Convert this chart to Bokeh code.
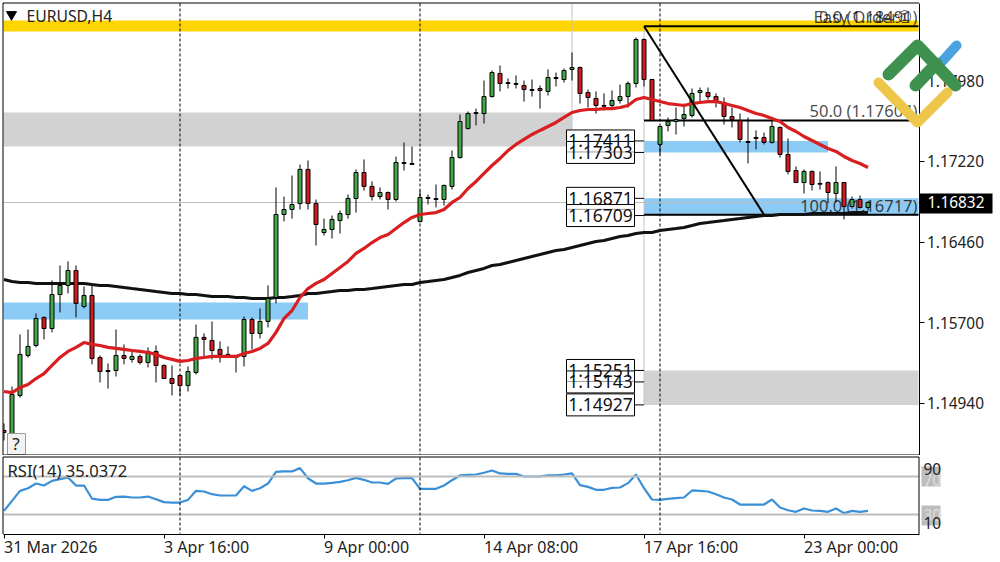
from bokeh.embed import file_html
from bokeh.resources import INLINE
from bokeh.plotting import figure
from bokeh.layouts import column
from bokeh.models import FixedTicker
from bokeh.core.properties import value

# ---------- data ----------
opens = [1.14686,1.14657,1.15015,1.15392,1.15486,1.15750,1.15646,1.15966,1.16051,1.16192,
         1.15853,1.15957,1.15373,1.15241,1.15251,1.15392,1.15355,1.15383,1.15326,1.15430,
         1.15298,1.15175,1.15204,1.15109,1.15232,1.15562,1.15533,1.15449,1.15402,1.15373,
         1.15383,1.15731,1.15599,1.15712,1.15938,1.16719,1.16766,1.16822,1.17143,1.16822,
         1.16549,1.16578,1.16662,1.16719,1.16870,1.17114,1.16983,1.16888,1.16926,1.16860,
         1.17199,1.17199,1.16653,1.16870,1.16860,1.16860,1.16983,1.17255,1.17528,1.17669,
         1.17669,1.17829,1.18046,1.17952,1.17952,1.17933,1.17895,1.17905,1.17877,1.18008,
         1.17989,1.18084,1.18102,1.17867,1.17811,1.17745,1.17745,1.17792,1.17829,1.17952,
         1.18366,1.17989,1.17378,1.17557,1.17594,1.17622,1.17651,1.17867,1.17867,1.17829,
         1.17773,1.17641,1.17604,1.17406,1.17444,1.17444,1.17397,1.17538,1.17284,1.17133,
         1.17020,1.17124,1.17011,1.17020,1.16917,1.17020,1.16794,1.16860,1.16785]
highs = [1.14752,1.15100,1.15590,1.15637,1.15787,1.15759,1.16098,1.16239,1.16277,1.16239,
         1.16042,1.16051,1.15392,1.15317,1.15637,1.15496,1.15430,1.15402,1.15468,1.15486,
         1.15308,1.15298,1.15204,1.15289,1.15684,1.15599,1.15712,1.15524,1.15477,1.15373,
         1.15759,1.15750,1.15835,1.16051,1.16973,1.16888,1.17086,1.17190,1.17227,1.16860,
         1.16681,1.16709,1.16756,1.16907,1.17143,1.17237,1.17030,1.16973,1.16935,1.17265,
         1.17397,1.17359,1.16945,1.16907,1.17001,1.17001,1.17321,1.17660,1.17688,1.17716,
         1.17980,1.18074,1.18121,1.17999,1.18027,1.17980,1.17989,1.17933,1.18084,1.18055,
         1.18093,1.18244,1.18112,1.17895,1.17877,1.17858,1.17886,1.17942,1.17971,1.18385,
         1.18375,1.17989,1.17547,1.17632,1.17726,1.17763,1.17905,1.17914,1.17914,1.17858,
         1.17820,1.17726,1.17669,1.17632,1.17510,1.17491,1.17632,1.17547,1.17435,1.17171,
         1.17143,1.17133,1.17124,1.17030,1.17171,1.17020,1.16888,1.16898,1.16841]
lows = [1.14592,1.14657,1.14996,1.15373,1.15468,1.15543,1.15609,1.15797,1.15976,1.15750,
        1.15835,1.15308,1.15138,1.15081,1.15194,1.15308,1.15326,1.15308,1.15279,1.15138,
        1.15175,1.15015,1.15015,1.15053,1.15213,1.15373,1.15355,1.15326,1.15373,1.15232,
        1.15289,1.15449,1.15552,1.15656,1.15882,1.16653,1.16681,1.16766,1.16766,1.16427,
        1.16521,1.16493,1.16540,1.16681,1.16737,1.16945,1.16851,1.16860,1.16766,1.16841,
        1.17133,1.17190,1.16643,1.16813,1.16785,1.16803,1.16954,1.17246,1.17519,1.17557,
        1.17575,1.17820,1.17877,1.17905,1.17905,1.17782,1.17829,1.17716,1.17839,1.17924,
        1.17961,1.17980,1.17763,1.17726,1.17669,1.17698,1.17726,1.17763,1.17726,1.17914,
        1.17924,1.17604,1.17284,1.17500,1.17472,1.17547,1.17632,1.17782,1.17801,1.17726,
        1.17566,1.17538,1.17397,1.17199,1.17331,1.17378,1.17387,1.17255,1.17096,1.17020,
        1.16917,1.16945,1.16954,1.16822,1.16832,1.16672,1.16775,1.16775,1.16756]
closes = [1.14667,1.15025,1.15402,1.15477,1.15740,1.15646,1.15966,1.16051,1.16192,1.15882,
          1.15957,1.15364,1.15241,1.15251,1.15392,1.15364,1.15383,1.15326,1.15430,1.15298,
          1.15175,1.15128,1.15109,1.15241,1.15562,1.15543,1.15439,1.15402,1.15392,1.15373,
          1.15731,1.15599,1.15712,1.15929,1.16719,1.16766,1.16813,1.17143,1.16822,1.16625,
          1.16578,1.16672,1.16728,1.16870,1.17114,1.16983,1.16888,1.16926,1.16860,1.17208,
          1.17208,1.17190,1.16879,1.16878,1.16869,1.16992,1.17255,1.17594,1.17669,1.17678,
          1.17829,1.18055,1.17952,1.17960,1.17944,1.17895,1.17887,1.17886,1.18008,1.17999,
          1.18074,1.18102,1.17858,1.17820,1.17745,1.17738,1.17792,1.17829,1.17952,1.18366,
          1.17989,1.17604,1.17547,1.17594,1.17613,1.17660,1.17858,1.17886,1.17829,1.17773,
          1.17641,1.17613,1.17425,1.17397,1.17435,1.17397,1.17547,1.17284,1.17124,1.17020,
          1.17124,1.17001,1.17004,1.16926,1.17020,1.16794,1.16860,1.16785,1.16832]
ma_fast = [1.15053,1.15043,1.15090,1.15119,1.15175,1.15222,1.15298,1.15373,1.15430,1.15468,
           1.15514,1.15496,1.15486,1.15468,1.15458,1.15449,1.15439,1.15430,1.15420,1.15402,
           1.15373,1.15355,1.15336,1.15345,1.15364,1.15373,1.15383,1.15383,1.15383,1.15383,
           1.15411,1.15430,1.15458,1.15505,1.15609,1.15740,1.15815,1.15938,1.16022,1.16070,
           1.16107,1.16164,1.16220,1.16277,1.16352,1.16399,1.16455,1.16502,1.16531,1.16587,
           1.16643,1.16691,1.16719,1.16728,1.16737,1.16766,1.16832,1.16879,1.16964,1.17030,
           1.17105,1.17180,1.17246,1.17321,1.17378,1.17425,1.17472,1.17510,1.17547,1.17585,
           1.17632,1.17679,1.17698,1.17707,1.17707,1.17716,1.17716,1.17726,1.17745,1.17801,
           1.17820,1.17801,1.17782,1.17763,1.17754,1.17745,1.17763,1.17773,1.17782,1.17782,
           1.17763,1.17745,1.17726,1.17698,1.17669,1.17651,1.17622,1.17594,1.17538,1.17500,
           1.17453,1.17415,1.17378,1.17340,1.17312,1.17265,1.17227,1.17199,1.17161]
ma_slow = [1.16107,1.16088,1.16079,1.16079,1.16070,1.16070,1.16070,1.16070,1.16070,1.16070,
           1.16070,1.16060,1.16051,1.16051,1.16042,1.16032,1.16022,1.16013,1.16004,1.15994,
           1.15985,1.15976,1.15976,1.15966,1.15966,1.15957,1.15947,1.15947,1.15947,1.15938,
           1.15938,1.15929,1.15929,1.15929,1.15938,1.15938,1.15947,1.15957,1.15976,1.15976,
           1.15985,1.15994,1.16004,1.16004,1.16013,1.16013,1.16022,1.16032,1.16042,1.16051,
           1.16060,1.16060,1.16079,1.16088,1.16098,1.16107,1.16126,1.16145,1.16173,1.16192,
           1.16211,1.16239,1.16248,1.16267,1.16286,1.16305,1.16324,1.16342,1.16361,1.16380,
           1.16389,1.16408,1.16427,1.16446,1.16465,1.16474,1.16493,1.16512,1.16521,1.16540,
           1.16549,1.16549,1.16568,1.16578,1.16587,1.16597,1.16615,1.16634,1.16643,1.16653,
           1.16662,1.16672,1.16681,1.16691,1.16700,1.16709,1.16709,1.16719,1.16719,1.16719,
           1.16719,1.16728,1.16728,1.16728,1.16728,1.16728,1.16737,1.16737,1.16737]
rsi = [33.8,44.4,54.9,57.7,62.6,60.5,65.4,67.2,69.0,60.5,60.5,46.8,45.4,45.4,48.6,48.9,47.9,47.9,48.9,46.1,
       43.0,42.6,42.6,45.4,54.9,54.2,51.4,50.0,50.0,50.0,59.8,54.9,57.7,62.6,74.9,75.3,75.3,78.8,68.2,62.6,
       62.6,63.3,64.4,66.1,68.6,66.5,63.7,63.7,62.3,67.9,68.2,68.2,57.0,57.0,57.0,60.5,66.1,71.1,71.8,72.1,
       73.9,76.3,73.2,72.8,72.8,70.0,70.0,70.0,71.1,71.1,72.1,73.2,60.9,59.1,56.0,56.0,58.0,58.4,63.0,72.1,
       57.7,45.8,45.4,46.5,47.2,47.9,55.3,54.9,54.2,51.4,47.9,45.8,40.5,40.5,40.5,40.5,45.8,37.4,34.5,32.8,
       36.3,34.2,33.8,32.8,36.3,31.4,33.8,32.8,33.8]

price_ticks = [1.17980, 1.17220, 1.16460, 1.15700, 1.14940]
price_tick_labels = ["1.17980", "1.17220", "1.16460", "1.15700", "1.14940"]
time_ticks = [0, 20, 40, 60, 80, 100]
time_tick_labels = ["31 Mar 2026", "3 Apr 16:00", "9 Apr 00:00", "14 Apr 08:00", "17 Apr 16:00", "23 Apr 00:00"]
session_lines = [22, 52, 82]
last_price = 1.16832
last_price_label = "1.16832"

zone_left = [-0.06, -0.06, -0.06, 80, 80, 80]
zone_right = [114.31, 71, 38, 103, 114.31, 114.31]
zone_top = [1.18545, 1.17679, 1.15891, 1.17411, 1.16871, 1.15251]
zone_bottom = [1.18441, 1.17359, 1.15731, 1.17303, 1.16709, 1.14927]
zone_color = ["#ffd500", "#d2d2d2", "#8ccbf5", "#8ccbf5", "#8ccbf5", "#d2d2d2"]

level_prices = [1.17411, 1.17303, 1.16871, 1.16709, 1.15251, 1.15143, 1.14927]
level_labels = ["1.17411", "1.17303", "1.16871", "1.16709", "1.15251", "1.15143", "1.14927"]
fib_prices = [1.18491, 1.17604, 1.16717]
fib_labels = ["0.0 (1.18491)", "50.0 (1.17604)", "100.0 (1.16717)"]
rsi_levels = [70, 30]

# ---------- helpers: picture position to data position ----------
FONT = "Noto Sans"
def X(px): return (px - 3.5) / 8
def Y(py): return 1.18733 - py * 0.00009412
def R(py): return 70 - (py - 476) / 0.95

n = len(opens)
idx = list(range(n))
GREEN, RED = "#45a84a", "#d01c20"
colors = [GREEN if c >= o else RED for o, c in zip(opens, closes)]
body_top = [max(o, c) for o, c in zip(opens, closes)]
body_bot = [min(o, c) for o, c in zip(opens, closes)]

main = figure(width=1000, height=455, output_backend="svg", toolbar_location=None,
              x_range=(X(0), X(1000)), y_range=(Y(455), Y(0)),
              x_axis_location=None, y_axis_location="right",
              min_border_left=0, min_border_right=0, min_border_top=0, min_border_bottom=0,
              outline_line_color=None, background_fill_color="white", border_fill_color="white")
main.grid.visible = False
ax = main.yaxis[0]
ax.fixed_location = X(918.5)
ax.bounds = (Y(454.5), Y(2.5))
ax.ticker = FixedTicker(ticks=price_ticks)
ax.major_label_overrides = dict(zip(price_ticks, price_tick_labels))
ax.major_tick_in = 0
ax.major_tick_out = 5
ax.minor_tick_line_color = None
ax.major_label_standoff = 3
ax.axis_line_color = "black"
ax.major_label_text_font = FONT
ax.major_label_text_font_size = "15.4px"
ax.major_label_text_color = "#222222"

# zones and reference lines
main.quad(left=zone_left, right=zone_right, top=zone_top, bottom=zone_bottom,
          fill_color=zone_color, line_color=None)
main.segment(x0=[X(3)], x1=[X(918)], y0=[last_price], y1=[last_price], line_color="#bdbdbd", line_width=1)
main.segment(x0=[71, 80], x1=[71, 80], y0=[Y(3), fib_prices[0]], y1=[zone_bottom[1], zone_bottom[5]],
             line_color="#c4c4c4", line_width=1)
for v in session_lines:
    main.line([v, v], [Y(3), Y(454)], line_color="black", line_width=1, line_dash=[3, 2])
main.segment(x0=[80] * 3, x1=[X(918)] * 3, y0=fib_prices, y1=fib_prices, line_color="black", line_width=2)

# overlapping object texts
main.text(x=[X(917)] * 3, y=[Y(16), Y(110), Y(205)], text=fib_labels, text_align="right", text_baseline="middle",
          text_font=value(FONT), text_font_size="16.5px", text_color="black", text_alpha=0.72)
main.text(x=[X(813)], y=[Y(16)], text=["Easy Order"], text_align="left", text_baseline="middle",
          text_font=value(FONT), text_font_size="16.5px", text_color="black", text_alpha=0.72)
main.text(x=[X(904)], y=[Y(16)], text=["①"], text_align="center", text_baseline="middle",
          text_font=value("DejaVu Sans"), text_font_size="17px", text_color="black", text_alpha=0.8)

# moving average, candles
main.line(idx, ma_slow, line_color="#111111", line_width=3)
main.segment(x0=idx, x1=idx, y0=lows, y1=highs, line_color="black", line_width=1)
main.vbar(x=idx, width=0.5, top=body_top, bottom=body_bot, fill_color=colors, line_color="black", line_width=1)
main.line(idx, ma_fast, line_color="#d81e20", line_width=3.2)
main.line([80, 95], [fib_prices[0], fib_prices[2]], line_color="black", line_width=2)

# boxed price levels
box_half = 11 * 0.00009412
main.segment(x0=[X(634)] * 7, x1=[80] * 7, y0=level_prices, y1=level_prices, line_color="black", line_width=1)
main.quad(left=[X(566)] * 7, right=[X(634)] * 7,
          top=[v + box_half for v in level_prices], bottom=[v - box_half for v in level_prices],
          fill_color="white", fill_alpha=[1, 0.6, 1, 0.6, 1, 0.6, 1], line_color="black", line_width=1)
main.text(x=[X(600)] * 7, y=level_prices, text=level_labels, text_align="center", text_baseline="middle",
          text_font=value(FONT), text_font_size="17.5px", text_color="#111111")

# header
main.scatter(x=[X(11)], y=[Y(14)], marker="inverted_triangle", size=10, fill_color="black", line_color="black")
main.text(x=[X(26)], y=[Y(15)], text=["EURUSD,H4"], text_align="left", text_baseline="middle",
          text_font=value(FONT), text_font_size="15.7px", text_color="#222222")

# help button
main.quad(left=[X(7)], right=[X(25)], top=[Y(433)], bottom=[Y(454)], fill_color="#f2f2f2", line_color="#9a9a9a")
main.text(x=[X(15.5)], y=[Y(443)], text=["?"], text_align="center", text_baseline="middle",
          text_font=value(FONT), text_font_size="17px", text_color="#222222")

# margin to the left of the frame, then the frame itself
main.quad(left=[X(0)], right=[X(2.5)], top=[Y(0)], bottom=[Y(455)], fill_color="white", line_color=None)
main.segment(x0=[X(2.5), X(2.5), X(2.5)], x1=[X(2.5), X(918.5), X(918.5)],
             y0=[Y(2.5), Y(2.5), Y(454.5)], y1=[Y(454.5), Y(2.5), Y(454.5)], line_color="black", line_width=1)

# current price tag
main.quad(left=[X(919)], right=[X(992)], top=[Y(193)], bottom=[Y(213)], fill_color="black", line_color=None)
main.text(x=[X(927)], y=[last_price], text=[last_price_label], text_align="left", text_baseline="middle",
          text_font=value(FONT), text_font_size="15.4px", text_color="white")

# logo
def stroke(points, color, w):
    main.line([X(a) for a, _ in points], [Y(b) for _, b in points], line_color=color, line_width=w,
              line_join="round", line_cap="round", level="overlay")
stroke([(938, 65), (956, 45)], "#4aa3df", 10)
stroke([(888, 74), (917, 45), (955, 85)], "#3f9150", 12)
stroke([(915, 85), (936, 63)], "#3f9150", 12)
stroke([(878, 82), (917, 122), (947, 92)], "#eec64a", 10)

# ---------- RSI pane ----------
sub = figure(width=1000, height=107, output_backend="svg", toolbar_location=None,
             x_range=main.x_range, y_range=(R(562), R(455)),
             x_axis_location="below", y_axis_location=None,
             min_border_left=0, min_border_right=0, min_border_top=0, min_border_bottom=0,
             outline_line_color=None, background_fill_color="white", border_fill_color="white")
sub.grid.visible = False
bx = sub.xaxis[0]
bx.fixed_location = R(533.5)
bx.bounds = (X(2.5), X(918.5))
bx.ticker = FixedTicker(ticks=time_ticks)
bx.major_label_overrides = dict(zip(time_ticks, time_tick_labels))
bx.major_tick_in = 0
bx.major_tick_out = 4
bx.minor_tick_line_color = None
bx.axis_line_color = "black"
bx.major_label_orientation = -0.0001
bx.major_label_standoff = 9
bx.major_label_text_font = FONT
bx.major_label_text_font_size = "16px"
bx.major_label_text_color = "#222222"

sub.line(idx, rsi, line_color="#3b8fd6", line_width=2.2)
sub.segment(x0=[X(3), X(3)], x1=[X(918)] * 2, y0=rsi_levels, y1=rsi_levels, line_color="#bdbdbd", line_width=2)
for v in session_lines:
    sub.line([v, v], [R(457), R(533)], line_color="black", line_width=1, line_dash=[3, 2])
sub.text(x=[X(7)], y=[R(470)], text=["RSI(14) 35.0372"], text_align="left", text_baseline="middle",
         text_font=value(FONT), text_font_size="16.6px", text_color="#222222")
sub.segment(x0=[X(2.5), X(918.5), X(2.5)], x1=[X(2.5), X(918.5), X(918.5)],
            y0=[R(456.5), R(456.5), R(456.5)], y1=[R(533.5), R(533.5), R(456.5)], line_color="black", line_width=1)

sub.quad(left=[X(921)] * 2, right=[X(940)] * 2, top=[R(466), R(505)], bottom=[R(486), R(525)],
         fill_color="#bdbdbd", line_color=None)
sub.text(x=[X(923)] * 4, y=[R(479), R(514), R(468), R(522.5)], text=["70", "30", "90", "10"],
         text_color=["#dddddd", "#dddddd", "#222222", "#222222"], text_align="left", text_baseline="middle",
         text_font=value(FONT), text_font_size="15.4px")

p = column(main, sub, spacing=0, styles={"position": "absolute", "left": "0px", "top": "0px"})
open("out.html", "w").write(file_html(p, INLINE))
